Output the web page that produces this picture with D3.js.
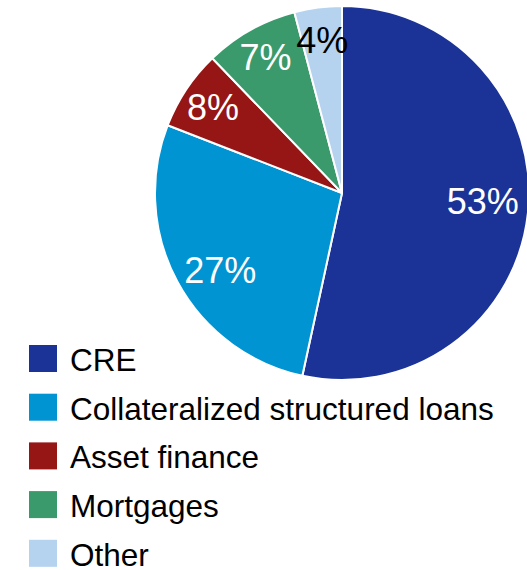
<!DOCTYPE html>
<html>
<head>
<meta charset="utf-8">
<script src="https://cdn.jsdelivr.net/npm/d3@7"></script>
<style>
  html, body { margin: 0; padding: 0; background: #fff; }
  svg { display: block; font-family: "Liberation Sans", Arial, sans-serif; }
</style>
</head>
<body>
<svg id="chart"></svg>
<script>
// categories and shares (angles as drawn in the picture), plus printed labels
const categories = ["CRE", "Collateralized structured loans", "Asset finance", "Mortgages", "Other"];
const shares = [53.4, 27.5, 6.9, 8.1, 4.1];
const labels = ["53%", "27%", "8%", "7%", "4%"];
const colors = ["#1b3396", "#0094d2", "#961515", "#3a9a6c", "#b5d2ef"];
const labelColors = ["#fff", "#fff", "#fff", "#fff", "#000"];

function drawPie(svgId) {
    const width = 527, height = 570;
    const svg = d3.select(`#${svgId}`)
        .attr("width", width)
        .attr("height", height);

    const cx = 342, cy = 193, radius = 187;
    // label placement: distance from centre and small angle nudge (degrees)
    const labelRadius = [141, 144, 155, 156, 154];
    const labelNudge = [-3, -4, 0, 0, 0];

    const items = categories.map((c, i) => ({ name: c, value: shares[i], i }));

    const pie = d3.pie().value(d => d.value).sort(null);
    const arc = d3.arc().innerRadius(0).outerRadius(radius);

    const g = svg.append("g").attr("transform", `translate(${cx},${cy})`);
    const arcs = pie(items);

    g.selectAll("path")
        .data(arcs)
        .enter()
        .append("path")
        .attr("d", arc)
        .attr("fill", d => colors[d.data.i])
        .attr("stroke", "#fff")
        .attr("stroke-width", 2)
        .attr("stroke-linejoin", "round");

    g.selectAll("text")
        .data(arcs)
        .enter()
        .append("text")
        .attr("transform", d => {
            const a = (d.startAngle + d.endAngle) / 2 + labelNudge[d.data.i] * Math.PI / 180;
            const r = labelRadius[d.data.i];
            return `translate(${r * Math.sin(a)},${-r * Math.cos(a)})`;
        })
        .attr("text-anchor", "middle")
        .attr("dy", "0.36em")
        .attr("font-size", "36px")
        .attr("fill", d => labelColors[d.data.i])
        .text(d => labels[d.data.i]);

    // legend
    const legendY = d3.scaleBand()
        .domain(categories)
        .range([345, 345 + 48.7 * categories.length]);

    const legend = svg.append("g");
    const row = legend.selectAll("g")
        .data(categories)
        .enter()
        .append("g")
        .attr("transform", d => `translate(29,${legendY(d)})`);

    row.append("rect")
        .attr("width", 28)
        .attr("height", 27)
        .attr("fill", (d, i) => colors[i]);

    row.append("text")
        .attr("x", 41)
        .attr("y", 26)
        .attr("font-size", "31.5px")
        .attr("fill", "#000")
        .text(d => d);
}

drawPie("chart");
</script>
</body>
</html>
